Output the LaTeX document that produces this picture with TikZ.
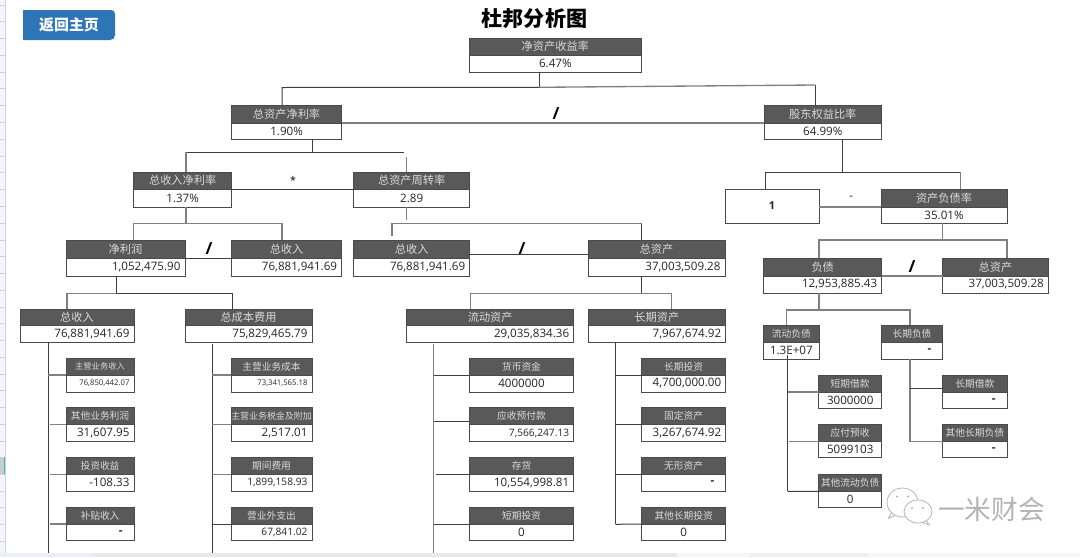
\documentclass[tikz,border=0pt]{standalone}
\usepackage{fontspec}
\usetikzlibrary{calc}
\setmainfont{Open Sans}
\newfontfamily\cjk{Noto Sans CJK SC}
\definecolor{bd}{HTML}{4A4A4A}
\definecolor{hdfill}{HTML}{595959}
\definecolor{hdtext}{HTML}{DADADA}
\definecolor{valtext}{HTML}{262626}
\definecolor{linedark}{HTML}{3F3F3F}
\definecolor{linelight}{HTML}{808080}
\definecolor{btn}{HTML}{2E75B6}
\definecolor{strip}{HTML}{F3F5F9}
\definecolor{stripline}{HTML}{CAD4E4}
\definecolor{wm}{HTML}{B4B4B4}
\definecolor{selcell}{HTML}{C9CDD1}
\definecolor{selgreen}{HTML}{3DBD8B}
\definecolor{barA}{HTML}{ECEEF4}
\definecolor{barB}{HTML}{E9E9ED}
\definecolor{barC}{HTML}{F6F6F9}
\definecolor{barD}{HTML}{EDEDF2}
\definecolor{barE}{HTML}{F7F7F9}
\tikzset{
  hdbox/.style={draw=bd,line width=.7pt,fill=hdfill,text=hdtext,inner sep=0pt,outer sep=0pt,anchor=north west,align=center,font=\cjk\fontsize{8.4pt}{10pt}\selectfont},
  valbox/.style={draw=bd,line width=.7pt,fill=white,text=valtext,inner ysep=0pt,inner xsep=3.4pt,outer sep=0pt,anchor=north west,align=right,font=\fontsize{8.7pt}{10pt}\selectfont},
  ctr/.style={valbox/.append style={align=center}},
  subhd/.style={hdbox/.append style={font=\cjk\fontsize{7.3pt}{9pt}\selectfont}},
  tinyhd/.style={hdbox/.append style={font=\cjk\fontsize{6.2pt}{8pt}\selectfont}},
  widehd/.style={hdbox/.append style={font=\cjk\fontsize{6.7pt}{8pt}\selectfont}},
  tinyval/.style={valbox/.append style={font=\fontsize{5.8pt}{7pt}\selectfont}},
  midval/.style={valbox/.append style={font=\fontsize{7.65pt}{9pt}\selectfont}},
  conn/.style={draw=linedark,line width=.75pt},
  connl/.style={draw=linelight,line width=1pt},
  optext/.style={text=black,inner sep=0pt,font=\bfseries\fontsize{12.5pt}{14pt}\selectfont},
  opsmall/.style={text=black,inner sep=0pt,font=\fontsize{8pt}{10pt}\selectfont},
  titletext/.style={text=black,inner sep=0pt,font=\cjk\bfseries\fontsize{15.8pt}{18pt}\selectfont},
  btntext/.style={text=white,inner sep=0pt,font=\cjk\bfseries\fontsize{11.2pt}{13pt}\selectfont},
  wmtext/.style={text=wm,inner sep=0pt,font=\cjk\fontsize{20pt}{22pt}\selectfont},
  bubble/.style={draw=wm,line width=.6pt,fill=white},
}
% [options]{id}{x1}{x2}{y1}{ymid}{y2}{title}{value}
\newcommand\card[9][]{\begingroup\tikzset{#1}%
  \pgfmathsetmacro\cw{(#4-#3)*0.75}%
  \pgfmathsetmacro\tw{(#4-#3)*0.75-6.8}%
  \pgfmathsetmacro\ha{(#6-#5)*0.75}%
  \pgfmathsetmacro\hb{(#7-#6)*0.75}%
  \node[hdbox,minimum width=\cw pt,minimum height=\ha pt] (#2-h) at (#3,#5) {#8};
  \node[valbox,text width=\tw pt,minimum height=\hb pt] (#2) at (#3,#6) {#9};
  \endgroup}
\newcommand\nilval{\textbf{-}\rule{5.2pt}{0pt}}
\begin{document}
\begin{tikzpicture}[x=0.75pt,y=-0.75pt]
\useasboundingbox (0,0) rectangle (1080,557);
\fill[white] (0,0) rectangle (1080,557);
% spreadsheet chrome
\fill[strip] (0,0) rectangle (5.5,557);
\foreach \yy in {5,21.7,38,55,72,88.6,105,122,139,156,172,189,206,223,240,256,273,290,307,323,340,357,374,390,407,424,441,457,474,491,507,524,541}
  \draw[stripline,line width=.6pt] (0,\yy) -- (5.5,\yy);
\fill[selcell] (0,457) rectangle (4,474);
\fill[selgreen] (4,457) rectangle (6,474);
\draw[stripline,line width=.7pt] (5.8,0) -- (5.8,553);
\fill[barA] (0,553) rectangle (93,557);
\fill[barB] (93,553) rectangle (677,557);
\fill[barC] (677,553) rectangle (750,557);
\fill[barD] (750,553) rectangle (868,557);
\fill[barE] (868,553) rectangle (1080,557);
% button and title
\fill[btn] (23,10) -- (111,10) .. controls (113.5,10) and (115,11.5) .. (115,14) -- (115,35) .. controls (115,38) and (113,40) .. (110,40) -- (23,40) -- cycle;
\node[btntext] (backlabel) at (69,25) {返回主页};
\node[titletext] (title) at (534.5,19) {杜邦分析图};
% level 1-4
\card[ctr]{roe}{469}{641.6}{38}{55}{72}{净资产收益率}{6.47\%}
\card[ctr]{roa}{231.5}{341.6}{105}{123}{139}{总资产净利率}{1.90\%}
\card[ctr]{eqr}{764}{881.6}{105}{123}{139}{股东权益比率}{64.99\%}
\card[ctr]{npm}{133.6}{231.7}{172}{189}{207}{总收入净利率}{1.37\%}
\card[ctr]{tat}{353.6}{469.7}{172}{189}{207}{总资产周转率}{2.89}
\node[valbox,align=center,text width=63.7pt,minimum height=25.5pt,font=\bfseries\fontsize{8.2pt}{10pt}\selectfont] (one) at (725,189) {1};
\card[ctr]{dar}{881}{1007}{189}{207}{223}{资产负债率}{35.01\%}
\card{np}{66}{185}{240}{258}{276}{净利润}{1,052,475.90}
\card{tr}{231.5}{341.6}{240}{258}{276}{总收入}{76,881,941.69}
\card{trb}{353.6}{469.7}{240}{258}{276}{总收入}{76,881,941.69}
\card{ta}{588}{725}{240}{258}{276}{总资产}{37,003,509.28}
\card{debt}{763.7}{881.7}{258}{276}{293}{负债}{12,953,885.43}
\card{tab}{942.7}{1048.3}{258}{276}{293}{总资产}{37,003,509.28}
% level 5
\card{trc}{20}{134}{309}{325.7}{342}{总收入}{76,881,941.69}
\card{tc}{185}{312}{309}{325.7}{342}{总成本费用}{75,829,465.79}
\card{ca}{406.7}{573.7}{309}{325.7}{342}{流动资产}{29,035,834.36}
\card{nca}{588}{725.7}{309}{325.7}{342}{长期资产}{7,967,674.92}
\card[ctr,subhd]{cl}{763.7}{819}{325.3}{342.3}{359}{流动负债}{1.3E+07}
\card[subhd]{ncl}{881.3}{942.7}{325.3}{342.3}{359}{长期负债}{\nilval}
% column 1
\card[tinyhd,tinyval]{a1}{66}{134}{358.7}{375}{392}{主营业务收入}{76,850,442.07}
\card[subhd]{a2}{66}{134}{407.7}{424.7}{441.7}{其他业务利润}{31,607.95}
\card[subhd]{a3}{66}{134}{457.3}{474.3}{491}{投资收益}{-108.33}
\card[subhd]{a4}{66}{134}{507.3}{524}{540.3}{补贴收入}{\nilval}
% column 2
\card[subhd,tinyval]{b1}{231}{312}{358.7}{375}{392}{主营业务成本}{73,341,565.18}
\card[widehd]{b2}{231}{312}{407.7}{424.7}{441.7}{主营业务税金及附加}{2,517.01}
\card[subhd,midval]{b3}{231}{312}{457.3}{474.3}{491}{期间费用}{1,899,158.93}
\card[subhd,midval]{b4}{231}{312}{507.3}{524}{540.3}{营业外支出}{67,841.02}
% column 3
\card[subhd,ctr]{c1}{469.3}{573.7}{358.7}{375}{392}{货币资金}{4000000}
\card[subhd,midval]{c2}{469.3}{573.7}{407.7}{424.7}{441.7}{应收预付款}{7,566,247.13}
\card[subhd]{c3}{469.3}{573.7}{457.3}{474.3}{491}{存货}{10,554,998.81}
\card[subhd,ctr]{c4}{469.3}{573.7}{507.3}{524}{540.3}{短期投资}{0}
% column 4
\card[subhd]{d1}{641.7}{725.7}{358.7}{375}{392}{长期投资}{4,700,000.00}
\card[subhd]{d2}{641.7}{725.7}{407.7}{424.7}{441.7}{固定资产}{3,267,674.92}
\card[subhd]{d3}{641.7}{725.7}{457.3}{474.3}{491}{无形资产}{\nilval}
\card[subhd,ctr]{d4}{641.7}{725.7}{507.3}{524}{540.3}{其他长期投资}{0}
% column 5
\card[subhd,ctr]{e1}{818.7}{881.7}{375}{392}{408.3}{短期借款}{3000000}
\card[subhd,ctr]{e2}{818.7}{881.7}{424.7}{441.7}{457.7}{应付预收}{5099103}
\card[subhd,ctr]{e3}{818.7}{881.7}{474}{491.3}{507.3}{其他流动负债}{0}
% column 6
\card[subhd]{f1}{942.7}{1007}{375}{392}{408.3}{长期借款}{\nilval}
\card[subhd]{f2}{942.7}{1007}{424.7}{441.7}{457.7}{其他长期负债}{\nilval}
% operators
\node[optext] (op1) at (556,114) {/};
\node[opsmall] (op2) at (293,180) {*};
\node[opsmall] (op3) at (851,198) {-};
\node[optext] (op4) at (209,249) {/};
\node[optext] (op5) at (522,249) {/};
\node[optext] (op6) at (912,267) {/};
% junction coordinates
\coordinate (j1) at (539,87.3); \coordinate (j1l) at (282,87.5); \coordinate (j1r) at (815,85);
\coordinate (j2) at (312.7,152.3); \coordinate (j2l) at (186,152.3); \coordinate (j2r) at (406.7,152.3); \coordinate (j2e) at (403.6,152.3);
\coordinate (j3) at (186,223.7); \coordinate (j3l) at (133.6,223.7); \coordinate (j3r) at (282,223.7);
\coordinate (j4) at (406.7,220); \coordinate (j4l) at (392,223.5); \coordinate (j4r) at (641.6,223.5); \coordinate (j4t) at (392,236);
\coordinate (j5) at (842.3,172.3); \coordinate (j5l) at (765.5,172.3); \coordinate (j5r) at (960.5,172.3);
\coordinate (j6) at (942.5,240); \coordinate (j6l) at (819,240); \coordinate (j6r) at (1007,240);
\coordinate (j7) at (116.4,293.3); \coordinate (j7l) at (67,293.3); \coordinate (j7r) at (232.5,293.3);
\coordinate (j8) at (641.7,293.3); \coordinate (j8l) at (470.7,293.3); \coordinate (j8r) at (671.7,293.3);
\coordinate (j9) at (819,310); \coordinate (j9l) at (786.7,310); \coordinate (j9r) at (910,310);
\coordinate (ta1) at (48.3,553); \coordinate (tb1) at (212,553); \coordinate (tc1) at (433.7,553);
\coordinate (td1) at (615.7,524.3); \coordinate (te1) at (787.7,491.3); \coordinate (tf1) at (910,441.7);
% tree connectors
\draw[conn] (roe.south -| j1) -- (j1);
\draw[conn] (roa-h.north -| j1l) -- (j1l) -- (j1);
\draw[connl] (j1) -- (j1r);
\draw[conn] (j1r) -- (eqr-h.north -| j1r);
\draw[conn] (roa.south -| j2) -- (j2);
\draw[conn] (j2l) -- (j2e);
\draw[connl] (j2l) -- (npm-h.north -| j2l);
\draw[connl] ($(j2r)+(0,5)$) -- (tat-h.north -| j2r);
\draw[connl] (npm.south -| j3) -- (j3);
\draw[connl] (tr-h.north -| j3r) -- (j3r) -- (j3l) -- (np-h.north -| j3l);
\draw[connl] (tat.south -| j4) -- (j4);
\draw[connl] (j4t) -- (j4l) -- (j4r);
\draw[conn] (j4r) -- (ta-h.north -| j4r);
\draw[conn] (eqr.south -| j5) -- (j5);
\draw[conn] (j5l) -- (j5r);
\draw[conn] (one.north -| j5l) -- (j5l);
\draw[connl] (j5r) -- (dar-h.north -| j5r);
\draw[connl] (dar.south -| j6) -- (j6);
\draw[connl] (debt-h.north -| j6l) -- (j6l) -- (j6r) -- (tab-h.north -| j6r);
\draw[conn] (np.south -| j7) -- (j7);
\draw[connl] (trc-h.north -| j7l) -- (j7l) -- (j7);
\draw[conn] (j7) -- (j7r) -- (tc-h.north -| j7r);
\draw[conn] (ta.south -| j8) -- (j8);
\draw[connl] (ca-h.north -| j8l) -- (j8l) -- (j8r) -- (nca-h.north -| j8r);
\draw[connl] (debt.south -| j9) -- (j9);
\draw[connl] (cl-h.north -| j9l) -- (j9l) -- (j9r) -- (ncl-h.north -| j9r);
% operator lines
\draw[connl] (roa-h.south east) -- (eqr-h.south west);
\draw[conn] (npm-h.south east) -- (tat-h.south west);
\draw[connl] (dar-h.south west -| one.east) -- (dar-h.south west);
\draw[conn] (np-h.south east) -- (tr-h.south west);
\draw[conn] ($(trb-h.south east)+(0,-4)$) -- ($(ta-h.south west)+(0,-4)$);
\draw[connl] (debt-h.south east) -- (tab-h.south west);
% detail trunks
\draw[conn] (trc.south -| ta1) -- (ta1);
\draw[connl] (ta1 |- a1-h.south) -- (a1-h.south west);
\draw[connl] (ta1 |- a2-h.south) ++(2,0) -- (a2-h.south west);
\draw[connl] (ta1 |- a3-h.south) ++(2,0) -- (a3-h.south west);
\draw[connl] (ta1 |- a4-h.south) ++(2,0) -- (a4-h.south west);
\draw[conn] (tb1 |- tc.south) ++(0,2) -- (tb1);
\draw[connl] (tb1 |- b1-h.south) -- (b1-h.south west);
\draw[connl] (tb1 |- b2-h.south) -- (b2-h.south west);
\draw[connl] (tb1 |- b3-h.south) -- (b3-h.south west);
\draw[conn] (tb1 |- b4-h.south) -- (b4-h.south west);
\draw[connl] (tc1 |- ca.south) ++(0,2) -- (tc1);
\draw[conn] (tc1 |- c1-h.south) -- (c1-h.south west);
\draw[conn] (tc1 |- c2-h.south) ++(0,-3.7) -- ($(c2-h.south west)+(0,-3.7)$);
\draw[conn] (tc1 |- c3-h.south) ++(2,0) -- (c3-h.south west);
\draw[conn] (tc1 |- c4-h.south) -- (c4-h.south west);
\draw[conn] (td1 |- nca.south) -- (td1);
\draw[conn] (td1 |- d1-h.south) -- (d1-h.south west);
\draw[conn] (td1 |- d2-h.south) -- (d2-h.south west);
\draw[conn] (td1 |- d3-h.south) -- (d3-h.south west);
\draw[conn] (td1) -- (d4-h.south west);
\draw[conn] (te1 |- cl.south) ++(0,-4) -- (te1);
\draw[connl] (te1 |- e1-h.south) -- (e1-h.south west);
\draw[connl] (te1 |- e2-h.south) ++(1.5,0) -- (e2-h.south west);
\draw[conn] (te1) -- (e3-h.south west);
\draw[connl] (ncl.south -| tf1) -- (tf1);
\draw[conn] (tf1 |- f1-h.north) ++(0,13.3) -- ($(f1-h.north west)+(0,13.3)$);
\draw[connl] (tf1) -- (f2-h.south west);
% watermark
\begin{scope}
\draw[bubble] (892,512) -- (888.5,518) -- (897,515) -- cycle;
\draw[bubble] (902.5,502.5) ellipse (15.5 and 14.5);
\draw[bubble] (925,518) -- (929,525) -- (920,521.5) -- cycle;
\draw[bubble] (918,511.5) ellipse (14 and 11.5);
\fill[wm] (897,496.5) circle (1.2) (908,496.5) circle (1.2) (912,508) circle (1.2) (923,508) circle (1.2);
\end{scope}
\node[wmtext] (wmlabel) at (991.5,509) {一米财会};
\end{tikzpicture}
\end{document}
